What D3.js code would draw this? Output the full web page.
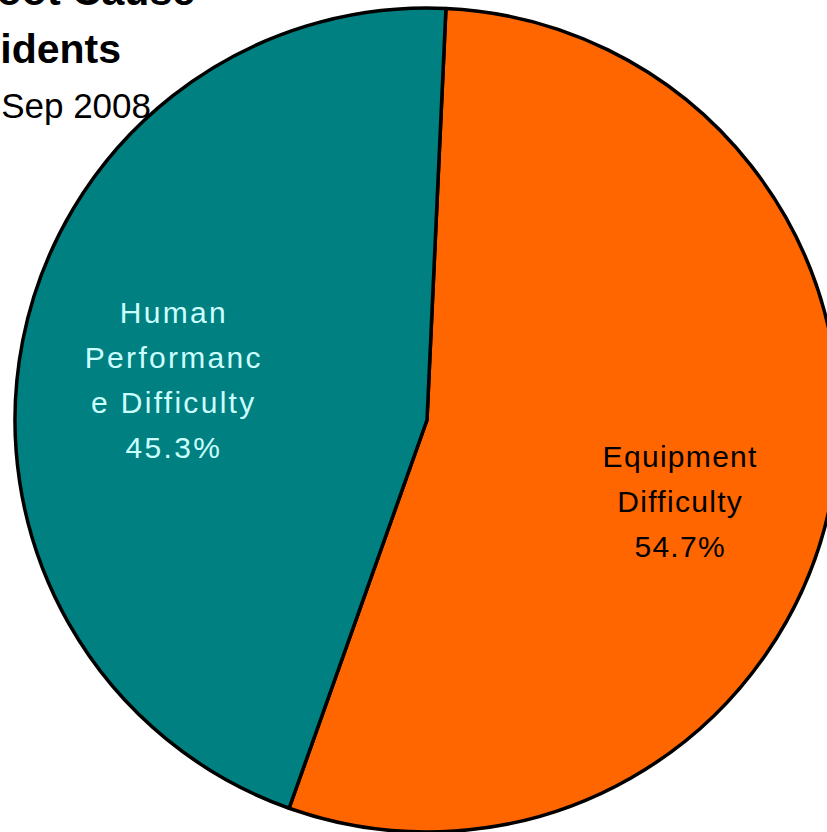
<!DOCTYPE html>
<html>
<head>
<meta charset="utf-8">
<script src="https://d3js.org/d3.v7.min.js"></script>
<style>
  body { margin: 0; background: #fff; }
  svg { display: block; font-family: Arial, "Liberation Sans", sans-serif; }
</style>
</head>
<body>
<svg class="chart"></svg>
<script>
// slice data, clockwise from the top
var categories = ["Equipment Difficulty", "Human Performance Difficulty"];
var shares = [54.7, 45.3];
var labelLines = [["Equipment", "Difficulty", "54.7%"],
                  ["Human", "Performanc", "e Difficulty", "45.3%"]];
var colors = ["#ff6600", "#008080"];
var textColors = ["#000000", "#ccffff"];
var titleLines = ["Root Cause", "Incidents", "Jan - Sep 2008"];

var width = 827, height = 832;
var cx = 427, cy = 420, radius = 412;

var svg = d3.select(".chart")
    .attr("width", width)
    .attr("height", height);

var pie = d3.pie()
    .sort(null)
    .value(function(d) { return d; })
    .startAngle(0.046)
    .endAngle(0.046 + 2 * Math.PI);

var arc = d3.arc().innerRadius(0).outerRadius(radius);
var labelArc = d3.arc().innerRadius(258).outerRadius(258);

var g = svg.append("g")
    .attr("transform", "translate(" + cx + "," + cy + ")");

var slices = g.selectAll("g.slice")
    .data(pie(shares))
    .enter().append("g")
    .attr("class", "slice");

slices.append("path")
    .attr("d", arc)
    .attr("fill", function(d, i) { return colors[i]; })
    .attr("stroke", "#000")
    .attr("stroke-width", 3.5)
    .attr("stroke-linejoin", "round");

// labels: equipment label sits a bit lower than its centroid
var shiftY = [31, 9];
var lineH = 45;
slices.append("text")
    .attr("text-anchor", "middle")
    .attr("font-size", 30)
    .attr("letter-spacing", function(d, i) { return i == 1 ? 2.3 : 1.3; })
    .attr("fill", function(d, i) { return textColors[i]; })
    .attr("transform", function(d, i) {
        var c = labelArc.centroid(d);
        return "translate(" + c[0] + "," + (c[1] + shiftY[i]) + ")";
    })
    .selectAll("tspan")
    .data(function(d, i) {
        var n = labelLines[i].length;
        return labelLines[i].map(function(t, j) { return { t: t, y: (j - (n - 1) / 2) * lineH + 11 }; });
    })
    .enter().append("tspan")
    .attr("x", 0)
    .attr("y", function(d) { return d.y; })
    .text(function(d) { return d.t; });

// title, cut off at the left edge like the original slide
var title = svg.append("g").attr("text-anchor", "end");
title.append("text")
    .attr("x", 195).attr("y", 5)
    .attr("font-size", 41).attr("font-weight", "bold")
    .text(titleLines[0]);
title.append("text")
    .attr("x", 121).attr("y", 63)
    .attr("font-size", 41).attr("font-weight", "bold")
    .text(titleLines[1]);
title.append("text")
    .attr("x", 151).attr("y", 118)
    .attr("font-size", 35)
    .text(titleLines[2]);
</script>
</body>
</html>
